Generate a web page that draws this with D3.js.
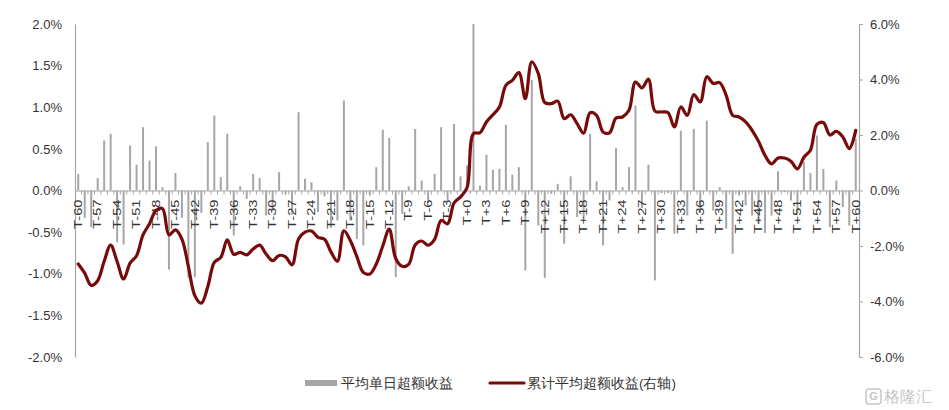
<!DOCTYPE html>
<html>
<head>
<meta charset="utf-8">
<script src="https://cdn.jsdelivr.net/npm/d3@7"></script>
<style>
  html, body { margin: 0; padding: 0; background: #fff; }
  svg { display: block; }
  text { font-family: "Liberation Sans", Arial, sans-serif; }
</style>
</head>
<body>
<svg id="chart" width="949" height="410"></svg>
<script>
// ---- data (percent) ----
const categories = d3.range(-60, 61).map(d => d < 0 ? "T" + d : "T+" + d);

const dailyReturn = [
  0.20,-0.33,-0.44,0.15,0.60,0.68,-0.62,-0.65,0.54,0.31,
  0.76,0.36,0.53,0.04,-0.95,0.21,-0.33,-1.05,-1.04,-0.27,
  0.58,0.90,0.16,0.68,-0.54,0.05,-0.10,0.20,0.15,-0.30,
  -0.24,0.22,-0.05,-0.29,0.94,0.14,0.10,-0.26,-0.07,-0.45,
  -0.36,1.08,-0.36,-0.58,-0.66,-0.06,0.28,0.73,0.63,-1.04,
  -0.28,0.05,0.74,0.12,-0.15,0.20,0.76,-0.12,0.80,0.17,
  0.30,2.00,0.06,0.43,0.25,0.26,0.79,0.19,0.28,-0.96,
  1.33,-0.42,-1.05,-0.04,0.08,-0.64,0.17,-0.32,-0.33,0.68,
  0.11,-0.66,-0.12,0.51,0.04,0.28,1.02,-0.21,0.31,-1.08,
  -0.03,-0.03,-0.52,0.72,-0.30,0.74,-0.27,0.84,-0.24,0.04,
  -0.46,-0.76,-0.06,-0.18,-0.30,-0.40,-0.51,-0.30,0.23,-0.02,
  -0.12,-0.27,0.34,0.21,0.66,0.26,-0.44,0.12,-0.20,-0.42,
  0.62
];

const cumReturn = [
  -2.65,-2.98,-3.42,-3.25,-2.55,-1.97,-2.56,-3.19,-2.62,-2.35,
  -1.60,-1.20,-0.72,-0.65,-1.60,-1.42,-1.75,-2.74,-3.79,-4.06,
  -3.46,-2.59,-2.41,-1.78,-2.30,-2.23,-2.32,-2.11,-1.97,-2.29,
  -2.53,-2.34,-2.39,-2.68,-1.75,-1.50,-1.46,-1.69,-1.76,-2.21,
  -2.55,-1.45,-1.81,-2.38,-2.95,-3.01,-2.65,-2.00,-1.39,-2.45,
  -2.73,-2.66,-1.96,-1.82,-1.97,-1.76,-1.08,-1.20,-0.45,-0.23,
  0.10,2.05,2.08,2.47,2.73,3.01,3.79,3.97,4.25,3.31,
  4.64,4.22,3.17,3.13,3.22,2.59,2.73,2.41,2.07,2.80,
  2.71,2.11,2.08,2.61,2.65,2.89,3.91,3.70,4.01,2.86,
  2.83,2.81,2.29,3.01,2.71,3.46,3.19,4.10,3.86,3.89,
  3.43,2.71,2.65,2.47,2.17,1.77,1.26,0.96,1.17,1.17,
  1.05,0.78,1.20,1.45,2.38,2.45,2.00,2.13,1.93,1.51,
  2.17
];

const leftTicks = [-2.0, -1.5, -1.0, -0.5, 0.0, 0.5, 1.0, 1.5, 2.0];
const rightTicks = [-6.0, -4.0, -2.0, 0.0, 2.0, 4.0, 6.0];
const seriesNames = ["平均单日超额收益", "累计平均超额收益(右轴)"];

// ---- layout ----
const svg = d3.select("#chart");
const X0 = 75, X1 = 859, YT = 24, YB = 357;
const axisColor = "#A6A6A6";
const barColor = "#A6A6A6";
const lineColor = "#780A0A";
const textColor = "#333333";

const x = d3.scaleBand().domain(categories).range([X0, X1]).padding(0);
const yL = d3.scaleLinear().domain([-2, 2]).range([YB, YT]);
const yR = d3.scaleLinear().domain([-6, 6]).range([YB, YT]);
const fmt = d => d.toFixed(1) + "%";

// left axis
const gL = svg.append("g").attr("transform", `translate(${X0},0)`)
  .call(d3.axisLeft(yL).tickValues(leftTicks).tickFormat(fmt).tickSize(0).tickPadding(13));
gL.select(".domain").attr("stroke", axisColor).attr("stroke-width", 1.2);
gL.selectAll("text").attr("fill", textColor).attr("font-size", 13)
  .attr("font-family", "'Liberation Sans', Arial, sans-serif");

// right axis
const gR = svg.append("g").attr("transform", `translate(${X1},0)`)
  .call(d3.axisRight(yR).tickValues(rightTicks).tickFormat(fmt).tickSize(4).tickSizeOuter(0).tickPadding(7));
gR.select(".domain").attr("stroke", axisColor).attr("stroke-width", 1.2);
gR.selectAll("line").attr("stroke", axisColor);
gR.selectAll("text").attr("fill", textColor).attr("font-size", 13)
  .attr("font-family", "'Liberation Sans', Arial, sans-serif");

// bars
const bw = 2;
svg.append("g").selectAll("rect").data(dailyReturn).join("rect")
  .attr("x", (d, i) => x(categories[i]) + x.bandwidth() / 2 - bw / 2)
  .attr("width", bw)
  .attr("y", d => Math.min(yL(d), yL(0)))
  .attr("height", d => Math.abs(yL(d) - yL(0)))
  .attr("fill", barColor);

// x axis (at zero)
const y0 = yL(0);
const gX = svg.append("g").attr("transform", `translate(0,${y0})`)
  .call(d3.axisBottom(x).tickSize(0).tickFormat(""));
gX.select(".domain").attr("stroke", axisColor).attr("stroke-width", 1.2);
// tick marks between categories
svg.append("g").selectAll("line").data(categories.slice(1)).join("line")
  .attr("x1", d => x(d)).attr("x2", d => x(d))
  .attr("y1", y0).attr("y2", y0 + 4)
  .attr("stroke", axisColor).attr("stroke-width", 1);
// rotated labels, every third category
svg.append("g").selectAll("text")
  .data(categories.filter((d, i) => i % 3 === 0)).join("text")
  .attr("transform", d => `translate(${x(d) + x.bandwidth() / 2},${y0 + 9}) rotate(-90) scale(1.4,1)`)
  .attr("text-anchor", "end")
  .attr("dy", "0.36em")
  .attr("font-size", 10.5)
  .attr("fill", textColor)
  .text(d => d);

// cumulative line
const line = d3.line()
  .x((d, i) => x(categories[i]) + x.bandwidth() / 2)
  .y(d => yR(d))
  .curve(d3.curveCatmullRom.alpha(0.5));
svg.append("path").datum(cumReturn)
  .attr("d", line)
  .attr("fill", "none")
  .attr("stroke", lineColor)
  .attr("stroke-width", 3.2)
  .attr("stroke-linejoin", "round")
  .attr("stroke-linecap", "round");

// legend
const ly = 383;
const lg = svg.append("g");
lg.append("rect").attr("x", 305).attr("y", ly - 3).attr("width", 32).attr("height", 6).attr("fill", barColor);
lg.append("text").attr("x", 341).attr("y", ly).attr("dy", "0.36em")
  .attr("font-size", 13.5).attr("fill", textColor)
  .attr("font-family", "'Noto Sans CJK SC', sans-serif").text(seriesNames[0]);
lg.append("line").attr("x1", 490).attr("x2", 524).attr("y1", ly).attr("y2", ly)
  .attr("stroke", lineColor).attr("stroke-width", 3.2).attr("stroke-linecap", "round");
lg.append("text").attr("x", 527).attr("y", ly).attr("dy", "0.36em")
  .attr("font-size", 13.5).attr("fill", textColor)
  .attr("font-family", "'Noto Sans CJK SC', sans-serif").text(seriesNames[1]);

// watermark
const wm = svg.append("g").attr("opacity", 0.55);
wm.append("rect").attr("x", 866).attr("y", 389).attr("width", 15).attr("height", 15).attr("rx", 3)
  .attr("fill", "none").attr("stroke", "#999").attr("stroke-width", 1.5);
wm.append("text").attr("x", 873.5).attr("y", 396.5).attr("dy", "0.36em").attr("text-anchor", "middle")
  .attr("font-size", 11).attr("font-weight", "bold").attr("fill", "#999").text("G");
wm.append("text").attr("x", 884).attr("y", 396.5).attr("dy", "0.36em")
  .attr("font-size", 16).attr("fill", "#999")
  .attr("font-family", "'Noto Sans CJK SC', sans-serif").text("格隆汇");
</script>
</body>
</html>
